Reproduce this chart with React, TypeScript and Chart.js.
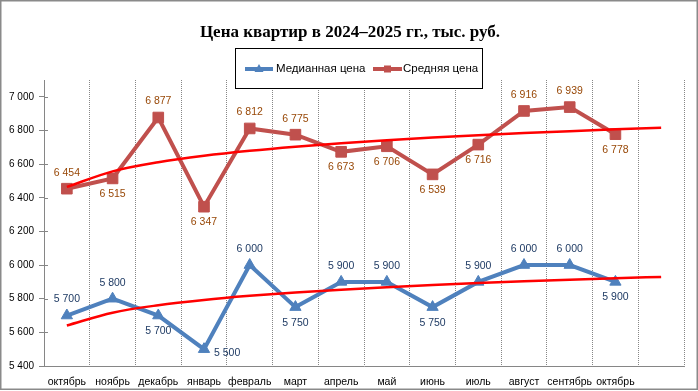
import React, { useEffect, useRef } from 'react';
import { Chart, registerables } from 'chart.js';

Chart.register(...registerables);

const TITLE = 'Цена квартир в 2024–2025 гг., тыс. руб.';
const months = ['октябрь', 'ноябрь', 'декабрь', 'январь', 'февраль', 'март', 'апрель', 'май', 'июнь', 'июль', 'август', 'сентябрь', 'октябрь', ''];
const medianName = 'Медианная цена';
const averageName = 'Средняя цена';
const medianPrice = [5700, 5800, 5700, 5500, 6000, 5750, 5900, 5900, 5750, 5900, 6000, 6000, 5900];
const averagePrice = [6454, 6515, 6877, 6347, 6812, 6775, 6673, 6706, 6539, 6716, 6916, 6939, 6778];
const yTicks = [5400, 5600, 5800, 6000, 6200, 6400, 6600, 6800, 7000];
const Y_MIN = 5400;
const Y_MAX = 7100;

// label placement (style)
const medianLabelPos = ['above', 'above', 'below', 'right', 'above', 'below', 'above', 'above', 'below', 'above', 'above', 'above', 'below'];
const averageLabelPos = ['above', 'below', 'above', 'below', 'above', 'above', 'below', 'below', 'below', 'below', 'above', 'above', 'below'];

const BLUE = '#4F81BD';
const RED = '#C0504D';
const BLUE_TEXT = '#1F3B64';
const RED_TEXT = '#984807';
const GRID = '#868686';

const fmt = (v: number) => String(v).replace(/\B(?=(\d{3})+(?!\d))/g, ' ');

// Logarithmic least-squares trendline (like Excel), evaluated at x = 1..n
function logTrend(values: number[], n: number): number[] {
  const xs = values.map((_, i) => Math.log(i + 1));
  const m = values.length;
  const mx = xs.reduce((a, b) => a + b, 0) / m;
  const my = values.reduce((a, b) => a + b, 0) / m;
  let sxx = 0, sxy = 0;
  for (let i = 0; i < m; i++) {
    sxx += (xs[i] - mx) ** 2;
    sxy += (xs[i] - mx) * (values[i] - my);
  }
  const b = sxy / sxx;
  const a = my - b * mx;
  const out: number[] = [];
  for (let i = 1; i <= n; i++) out.push(a + b * Math.log(i));
  return out;
}

const LABEL_FONT = '10.5px "Liberation Sans", Arial, sans-serif';

const labelsPlugin = {
  id: 'pointLabels',
  afterDatasetsDraw(chart: any) {
    const ctx = chart.ctx;
    const cfg = [
      { idx: 0, values: medianPrice, pos: medianLabelPos, color: BLUE_TEXT },
      { idx: 1, values: averagePrice, pos: averageLabelPos, color: RED_TEXT },
    ];
    ctx.save();
    ctx.font = LABEL_FONT;
    ctx.textBaseline = 'middle';
    for (const c of cfg) {
      const meta = chart.getDatasetMeta(c.idx);
      ctx.fillStyle = c.color;
      meta.data.forEach((pt: any, j: number) => {
        if (j >= c.values.length) return;
        const text = fmt(c.values[j]);
        const p = c.pos[j];
        let x = pt.x, y = pt.y;
        ctx.textAlign = 'center';
        if (p === 'above') y -= 16;
        else if (p === 'below') y += 15.5;
        else if (p === 'right') { ctx.textAlign = 'left'; x += 10; y += 3.5; }
        ctx.fillText(text, x, y);
      });
    }
    ctx.restore();
  },
};

const decorPlugin = {
  id: 'decor',
  beforeDraw(chart: any) {
    const ctx = chart.ctx;
    ctx.save();
    ctx.fillStyle = '#ffffff';
    ctx.fillRect(0, 0, chart.width, chart.height);
    ctx.restore();
  },
  afterDraw(chart: any) {
    const ctx = chart.ctx;
    ctx.save();
    // y-axis tick marks crossing the axis line
    const ys = chart.scales.y;
    ctx.strokeStyle = GRID;
    ctx.lineWidth = 1;
    ctx.beginPath();
    for (const v of yTicks) {
      const py = Math.round(ys.getPixelForValue(v)) + 0.5;
      ctx.moveTo(chart.chartArea.left, py);
      ctx.lineTo(chart.chartArea.left + 4, py);
    }
    ctx.stroke();

    // title
    ctx.fillStyle = '#000';
    ctx.font = 'bold 17px "Liberation Serif", "Times New Roman", serif';
    ctx.textAlign = 'center';
    ctx.textBaseline = 'alphabetic';
    ctx.fillText(TITLE, 350, 37);

    // legend box
    const bx = 235.5, by = 48.5, bw = 247, bh = 40;
    ctx.fillStyle = '#fff';
    ctx.fillRect(bx, by, bw, bh);
    ctx.strokeStyle = '#000';
    ctx.lineWidth = 1;
    ctx.strokeRect(bx, by, bw, bh);
    const ly = 69;
    // median sample
    ctx.strokeStyle = BLUE;
    ctx.lineWidth = 4;
    ctx.beginPath();
    ctx.moveTo(245, ly);
    ctx.lineTo(273, ly);
    ctx.stroke();
    ctx.fillStyle = BLUE;
    ctx.beginPath();
    ctx.moveTo(259, ly - 5);
    ctx.lineTo(263.5, ly + 3);
    ctx.lineTo(254.5, ly + 3);
    ctx.closePath();
    ctx.fill();
    // average sample
    ctx.strokeStyle = RED;
    ctx.beginPath();
    ctx.moveTo(373, ly);
    ctx.lineTo(402, ly);
    ctx.stroke();
    ctx.fillStyle = RED;
    ctx.fillRect(384, ly - 3.5, 7, 7);
    // texts
    ctx.fillStyle = '#000';
    ctx.font = '11.5px "Liberation Sans", Arial, sans-serif';
    ctx.textAlign = 'left';
    ctx.textBaseline = 'middle';
    ctx.fillText(medianName, 276, ly);
    ctx.fillText(averageName, 403, ly);

    // outer border
    ctx.strokeStyle = '#8a8a8a';
    ctx.lineWidth = 1.5;
    ctx.strokeRect(0.75, 0.75, 696.5, 388.5);
    ctx.restore();
  },
};

export default function App() {
  const ref = useRef<HTMLCanvasElement | null>(null);
  useEffect(() => {
    if (!ref.current) return;
    const n = months.length;
    const medianTrend = logTrend(medianPrice, n);
    const averageTrend = logTrend(averagePrice, n);
    const chart = new Chart(ref.current, {
      type: 'line',
      data: {
        labels: months,
        datasets: [
          {
            label: medianName,
            data: medianPrice,
            borderColor: BLUE,
            backgroundColor: BLUE,
            borderWidth: 4,
            pointStyle: 'triangle',
            pointRadius: 6.5,
            pointBorderWidth: 1,
            tension: 0,
            order: 2,
          },
          {
            label: averageName,
            data: averagePrice,
            borderColor: RED,
            backgroundColor: RED,
            borderWidth: 4,
            pointStyle: 'rect',
            pointRadius: 7.5,
            pointBorderWidth: 1,
            tension: 0,
            order: 2,
          },
          {
            label: 'trend-median',
            data: medianTrend,
            borderColor: '#FF0000',
            borderWidth: 2.5,
            pointRadius: 0,
            cubicInterpolationMode: 'monotone',
            order: 1,
          },
          {
            label: 'trend-average',
            data: averageTrend,
            borderColor: '#FF0000',
            borderWidth: 2.5,
            pointRadius: 0,
            cubicInterpolationMode: 'monotone',
            order: 1,
          },
        ],
      },
      options: {
        responsive: false,
        animation: false,
        devicePixelRatio: 1,
        layout: { padding: { top: 80, right: 14, bottom: 0, left: 0 } },
        plugins: {
          legend: { display: false },
          title: { display: false },
          tooltip: { enabled: false },
        },
        scales: {
          x: {
            offset: true,
            grid: {
              offset: true,
              color: GRID,
              drawTicks: false,
              lineWidth: 1,
            },
            border: { display: true, color: GRID, width: 1, dash: [1, 1] },
            ticks: {
              color: '#000',
              font: { family: '"Liberation Sans", Arial, sans-serif', size: 10.5 },
              padding: 10,
              maxRotation: 0,
              autoSkip: false,
            },
            afterFit: (s: any) => { s.height = 25; },
          },
          y: {
            min: Y_MIN,
            max: Y_MAX,
            grid: {
              drawOnChartArea: false,
              drawTicks: true,
              tickLength: 5,
              tickColor: GRID,
            },
            border: { display: true, color: GRID, width: 1 },
            ticks: {
              color: '#000',
              font: { family: '"Liberation Sans", Arial, sans-serif', size: 10 },
              padding: 5,
              callback: (v: any) => fmt(Number(v)),
            },
            afterBuildTicks: (s: any) => { s.ticks = yTicks.map((v) => ({ value: v })); },
            afterFit: (s: any) => { s.width = 44; },
          },
        },
      },
      plugins: [decorPlugin, labelsPlugin],
    } as any);
    return () => chart.destroy();
  }, []);
  return (
    <div style={{ position: 'fixed', left: 0, top: 0, width: 698, height: 391, background: '#fff' }}>
      <canvas ref={ref} width={698} height={391} style={{ display: 'block' }} />
    </div>
  );
}
